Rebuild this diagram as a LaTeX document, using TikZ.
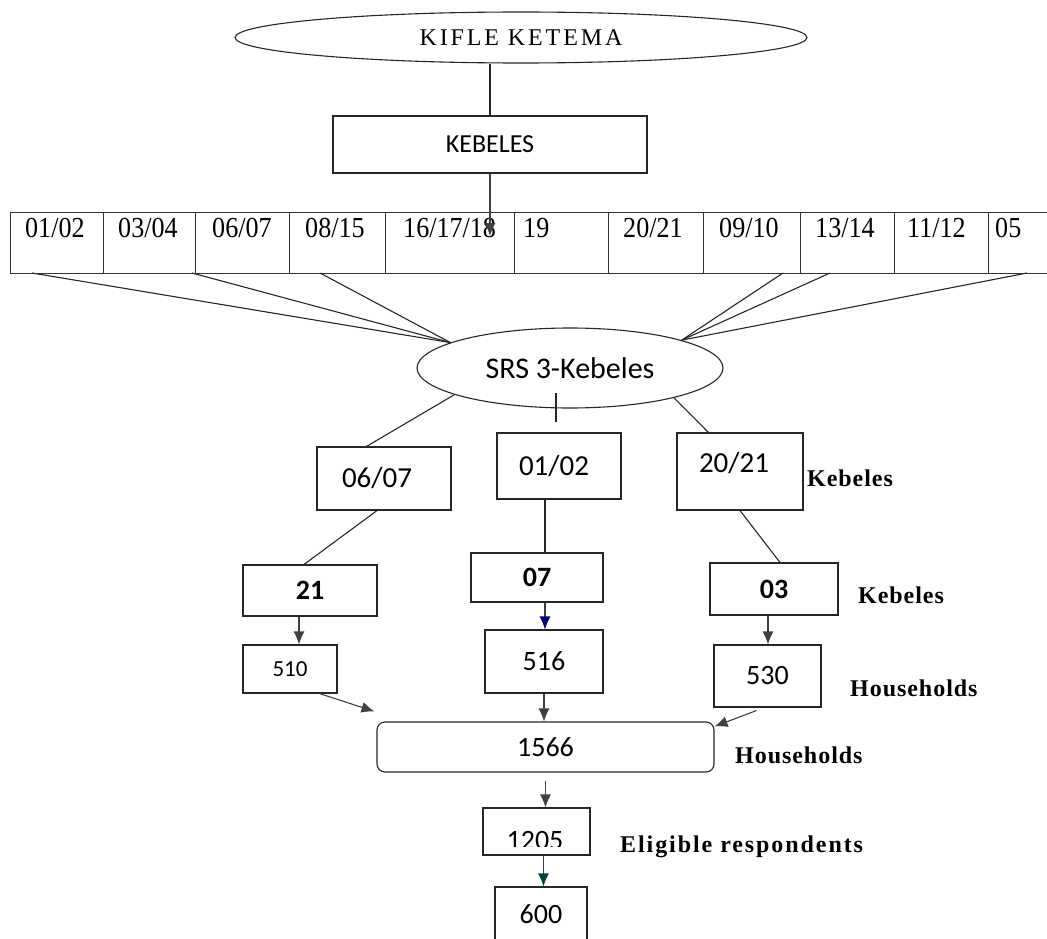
\documentclass[tikz,border=0pt]{standalone}
\usepackage{fontspec}
\setmainfont{Liberation Serif}
\setsansfont{Carlito}
\usetikzlibrary{positioning,calc,shapes.geometric,arrows.meta}
\tikzstyle{block} = [draw=black!85, rectangle, line width=1.1pt, inner sep=0pt, font=\fontsize{28}{32}\selectfont\sffamily]
\tikzstyle{bblock} = [block, font=\fontsize{28}{32}\selectfont\sffamily\bfseries]
\tikzstyle{oval} = [draw=black!85, ellipse, line width=1.1pt, inner sep=0pt]
\tikzstyle{cell} = [draw=black!80, rectangle, line width=1.1pt, inner sep=0pt, anchor=north west, minimum height=61pt]
\tikzstyle{celltext} = [anchor=west, inner sep=0pt, font=\fontsize{29}{33}\selectfont\addfontfeature{FakeStretch=0.9}]
\tikzstyle{link} = [draw=black!85, line width=1.1pt]
\tikzstyle{arr} = [draw=black!75, line width=1.1pt, -{Latex[length=13pt,width=11pt]}]
\tikzstyle{note} = [anchor=west, inner sep=0pt, font=\fontsize{24}{28}\selectfont\bfseries\addfontfeature{LetterSpace=4}]

\begin{document}
\begin{tikzpicture}[x=1pt, y=-1pt]
\clip (0,0) rectangle (1047,939);
\node[oval, minimum width=572pt, minimum height=51pt, font=\fontsize{24}{28}\selectfont\addfontfeature{LetterSpace=12}] (kifle) at (521,37.5) {KIFLE KETEMA};
\node[block, minimum width=314pt, minimum height=57pt, font=\fontsize{26}{30}\selectfont\sffamily] (keb) at (490,144.5) {KEBELES};
\draw[link] (keb.north |- kifle.south) -- (keb.north);

\foreach \l/\r/\lab/\o [count=\i] in {10/103/{01/02}/15, 103/195/{03/04}/15, 195/289/{06/07}/17, 289/385/{08/15}/16, 385/514/{16/17/18}/18, 514/608/19/9, 608/703/{20/21}/15, 703/800/{09/10}/16, 800/894/{13/14}/15, 894/988/{11/12}/13, 988/1060/05/7}
{
\node[cell, minimum width={(\r-\l)*1pt}] (c\i) at (\l,212) {};
\node[celltext] (t\i) at ($(c\i.north west)+(\o,16)$) {\lab};
}
\draw[arr] (keb.south) -- ($(keb.south |- c5.north)+(0,24)$);

\coordinate (s1) at (32,273);
\coordinate (s2) at (192,273);
\coordinate (s3) at (320,273);
\coordinate (s4) at (783,273);
\coordinate (s5) at (830,273);
\coordinate (s6) at (1027,273);
\node[oval, minimum width=306pt, minimum height=80pt, font=\fontsize{30}{34}\selectfont\sffamily] (srs) at (570,368) {SRS 3-Kebeles};
\foreach \s in {s1,s2,s3} \draw[link] (\s) -- (srs.168);
\foreach \s in {s4,s5,s6} \draw[link] (\s) -- (srs.14);
\coordinate (stubtop) at (556,393);
\coordinate (stubend) at (556,422);
\draw[link] (stubtop) -- (stubend);

\node[block, minimum width=134pt, minimum height=63pt, font=\fontsize{29}{33}\selectfont\sffamily] (k0607) at (384,478.5) {\hspace*{-14pt}06/07};
\node[block, minimum width=124pt, minimum height=66pt, font=\fontsize{29}{33}\selectfont\sffamily] (k0102) at (559,466) {\hspace*{-10pt}01/02};
\node[block, minimum width=126pt, minimum height=77pt, text height=21pt, text depth=20pt, font=\fontsize{29}{33}\selectfont\sffamily] (k2021) at (740,471.5) {\hspace*{-12pt}20/21};
\node[note] (lkeb1) at (807,478) {Kebeles};
\draw[link] (srs.193) -- ($(k0607.north west)+(50,0)$);
\draw[link] (srs.344) -- ($(k2021.north west)+(32,0)$);

\node[bblock, minimum width=134pt, minimum height=51pt] (k21) at (310,590.5) {21};
\node[bblock, minimum width=132pt, minimum height=49pt] (k07) at (537,577.5) {07};
\node[bblock, minimum width=128pt, minimum height=52pt] (k03) at (774,589) {03};
\node[note] (lkeb2) at (858,595) {Kebeles};
\draw[link] ($(k0607.south)+(-7,0)$) -- ($(k21.north)+(-6,0)$);
\coordinate (a0102) at ($(k0102.south)+(-14,0)$);
\draw[link] (a0102) -- (a0102 |- k07.north);
\draw[link] (k2021.south) -- ($(k03.north)+(6,0)$);

\node[block, minimum width=94pt, minimum height=48pt, font=\fontsize{23}{27}\selectfont\sffamily] (h510) at (290,669) {510};
\node[block, minimum width=118pt, minimum height=63pt] (h516) at (544,661.5) {516};
\node[block, minimum width=107pt, minimum height=62pt] (h530) at (767.5,676) {530};
\node[note] (lhh1) at (850,688) {Households};
\coordinate (a21) at ($(k21.south)+(-11,0)$);
\draw[arr] (a21) -- (a21 |- h510.north);
\coordinate (a07) at ($(k07.south)+(8,0)$);
\draw[arr, -{Latex[length=13pt,width=11pt,color=blue!45!black]}] (a07) -- (a07 |- h516.north);
\coordinate (a03) at ($(k03.south)+(-6,0)$);
\draw[arr] (a03) -- (a03 |- h530.north);

\node[block, rounded corners=8pt, minimum width=337pt, minimum height=50pt] (hh) at (545.5,747) {1566};
\node[note] (lhh2) at (735,755) {Households};
\draw[arr] ($(h510.south east)+(-18,0)$) -- ($(hh.north west)+(-2,-10)$);
\draw[arr] (h516.south) -- (h516.south |- hh.north);
\draw[arr] ($(h530.south west)+(43,3)$) -- ($(hh.north east)+(0,5)$);

\node[block, minimum width=107pt, minimum height=47pt] (n1205) at (536.5,831.5) {};
\begin{scope}
\clip (n1205.north west) rectangle ($(n1205.south east)+(0,-9)$);
\node[font=\fontsize{28}{32}\selectfont\sffamily, inner sep=0pt] (t1205) at (535,841) {1205};
\end{scope}
\node[note, font=\fontsize{24}{28}\selectfont\bfseries\addfontfeature{LetterSpace=8}] (lelig) at (620,847) {Eligible respondents};
\node[block, minimum width=92pt, minimum height=55pt] (n600) at (541,914.5) {600};
\coordinate (ahh) at ($(hh.south)+(0,8)$);
\draw[arr] (ahh) -- (ahh |- n1205.north);
\coordinate (a1205) at ($(n1205.south)+(7,0)$);
\draw[arr, -{Latex[length=13pt,width=11pt,color=teal!50!black]}] (a1205) -- (a1205 |- n600.north);
\end{tikzpicture}
\end{document}
